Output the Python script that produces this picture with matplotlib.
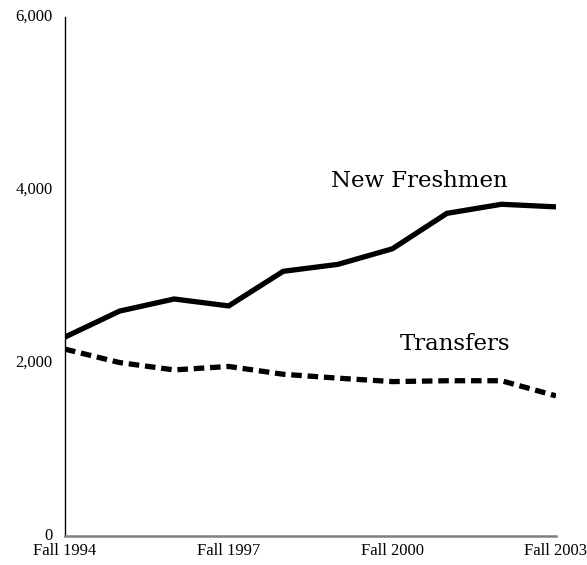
import matplotlib
matplotlib.use("Agg")
import matplotlib.pyplot as plt

years = ["Fall 1994", "Fall 1995", "Fall 1996", "Fall 1997", "Fall 1998",
         "Fall 1999", "Fall 2000", "Fall 2001", "Fall 2002", "Fall 2003"]
freshmen = [2300, 2600, 2740, 2660, 3060, 3140, 3320, 3730, 3835, 3805]
transfers = [2160, 2005, 1920, 1960, 1870, 1825, 1785, 1795, 1795, 1620]
ytick_vals = [0, 2000, 4000, 6000]
xtick_labels = ["Fall 1994", "Fall 1997", "Fall 2000", "Fall 2003"]

plt.rcParams['font.family'] = ['Liberation Serif', 'DejaVu Serif']

fig = plt.figure(figsize=(5.87, 5.65), dpi=100)
ax = fig.add_axes([65/587, 29/565, (556-65)/587, (536-17)/565])

x = list(range(len(years)))
ax.plot(x, freshmen, color='black', lw=3.8, solid_capstyle='butt', solid_joinstyle='miter')
ax.plot(x, transfers, color='black', lw=3.8, linestyle=(0, (2.0, 1.1)), dash_capstyle='butt')

ax.set_xlim(0, len(years) - 1)
ax.set_ylim(0, 6000)
ax.set_yticks(ytick_vals)
ax.set_yticklabels([f"{v:,}" for v in ytick_vals], fontsize=12)
xt = [years.index(l) for l in xtick_labels]
ax.set_xticks(xt)
ax.set_xticklabels(xtick_labels, fontsize=12)
ax.tick_params(length=0)
ax.tick_params(axis='x', pad=5)
ax.tick_params(axis='y', pad=9)
for lab in ax.get_yticklabels():
    lab.set_verticalalignment('center')

ax.spines['top'].set_visible(False)
ax.spines['right'].set_visible(False)
ax.spines['left'].set_color('black')
ax.spines['left'].set_linewidth(1.0)
ax.spines['bottom'].set_color('#808080')
ax.spines['bottom'].set_linewidth(1.8)

ax.text(6.49, 4104, "New Freshmen", fontsize=16.5, family='DejaVu Serif',
        ha='center', va='center')
ax.text(7.15, 2220, "Transfers", fontsize=16.5, family='DejaVu Serif',
        ha='center', va='center')

fig.savefig("out.png", dpi=100)
